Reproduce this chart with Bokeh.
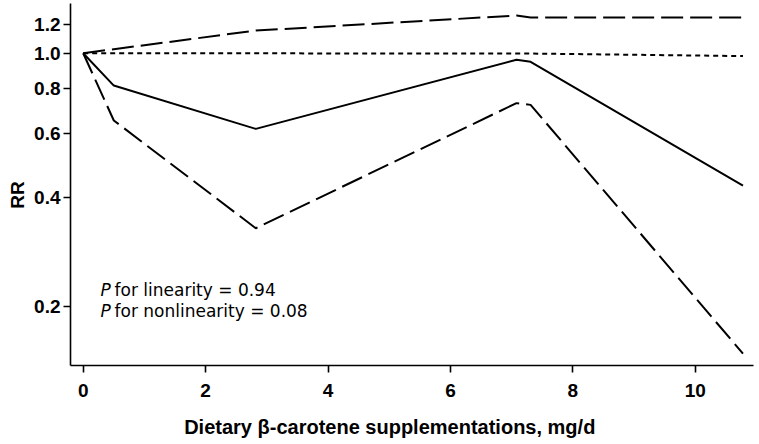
import math
from bokeh.plotting import figure
from bokeh.models import FixedTicker, PrintfTickFormatter, Label, Range1d, Title
from bokeh.embed import file_html
from bokeh.resources import INLINE

# ---- data ----
dose = [0.0, 0.5, 2.82, 7.08, 7.31, 10.78]
rr = [1.0, 0.814, 0.618, 0.959, 0.947, 0.431]
ci_upper = [1.0, 1.026, 1.155, 1.271, 1.255, 1.255]
ci_lower = [1.0, 0.652, 0.3285, 0.728, 0.720, 0.148]
ref_dose = [0.0, 7.31, 10.78]
ref_rr = [1.0, 0.998, 0.982]

x_ticks = [0, 2, 4, 6, 8, 10]
y_ticks = [0.2, 0.4, 0.6, 0.8, 1.0, 1.2]

p_lines = ["for linearity = 0.94", "for nonlinearity = 0.08"]
p_line_y = [0.222, 0.1945]

NBSP = "\u00a0"
x_title = "Dietary \u03b2-carotene supplementations, mg/d" + NBSP * 8
y_title = "RR" + NBSP * 4

# ---- figure ----
p = figure(width=759, height=444, y_axis_type="log",
           x_range=Range1d(-0.2075, 10.952), y_range=Range1d(0.1372, 1.372),
           output_backend="svg", toolbar_location=None,
           min_border_left=70, min_border_right=6, min_border_top=3, min_border_bottom=79)
p.outline_line_color = None
p.xgrid.visible = False
p.ygrid.visible = False
p.background_fill_color = "white"
p.border_fill_color = "white"

for ax in (p.xaxis[0], p.yaxis[0]):
    ax.axis_line_width = 1.6
    ax.axis_line_color = "black"
    ax.major_tick_line_color = "black"
    ax.major_tick_line_width = 1.6
    ax.major_tick_in = 0
    ax.major_tick_out = 7
    ax.minor_tick_line_color = None
    ax.major_label_text_font = "Liberation Sans"
    ax.major_label_text_font_style = "bold"
    ax.major_label_text_font_size = "19px"
    ax.major_label_text_color = "black"

p.xaxis.ticker = FixedTicker(ticks=x_ticks)
p.yaxis.ticker = FixedTicker(ticks=y_ticks)
p.yaxis.formatter = PrintfTickFormatter(format="%.1f")
p.xaxis.major_label_standoff = 11
p.yaxis.major_label_standoff = 3

p.xaxis.axis_label = x_title
p.xaxis.axis_label_standoff = 16
p.xaxis.axis_label_text_font = "Liberation Sans"
p.xaxis.axis_label_text_font_style = "bold"
p.xaxis.axis_label_text_font_size = "20px"
p.xaxis.axis_label_text_color = "black"

# ---- lines ----
p.line(dose, ci_upper, line_color="black", line_width=2, line_dash="22 7")
p.line(dose, ci_lower, line_color="black", line_width=2, line_dash="22 7")
p.line(ref_dose, ref_rr, line_color="black", line_width=2, line_dash="5 4")
p.line(dose, rr, line_color="black", line_width=2)

# ---- text annotations ----
for txt, yv in zip(p_lines, p_line_y):
    p.add_layout(Label(x=0.283, y=yv, text="P", text_font="DejaVu Sans",
                       text_font_style="italic", text_font_size="17px",
                       text_baseline="alphabetic", text_color="black"))
    p.add_layout(Label(x=0.283, y=yv, x_offset=14, text=txt, text_font="DejaVu Sans",
                       text_font_size="17px", text_baseline="alphabetic",
                       text_color="black"))

p.add_layout(Title(text=y_title, align="center", standoff=8,
                   text_font="Liberation Sans", text_font_style="bold",
                   text_font_size="19px", text_color="black"), "left")

open("out.html", "w").write(file_html(p, INLINE))
